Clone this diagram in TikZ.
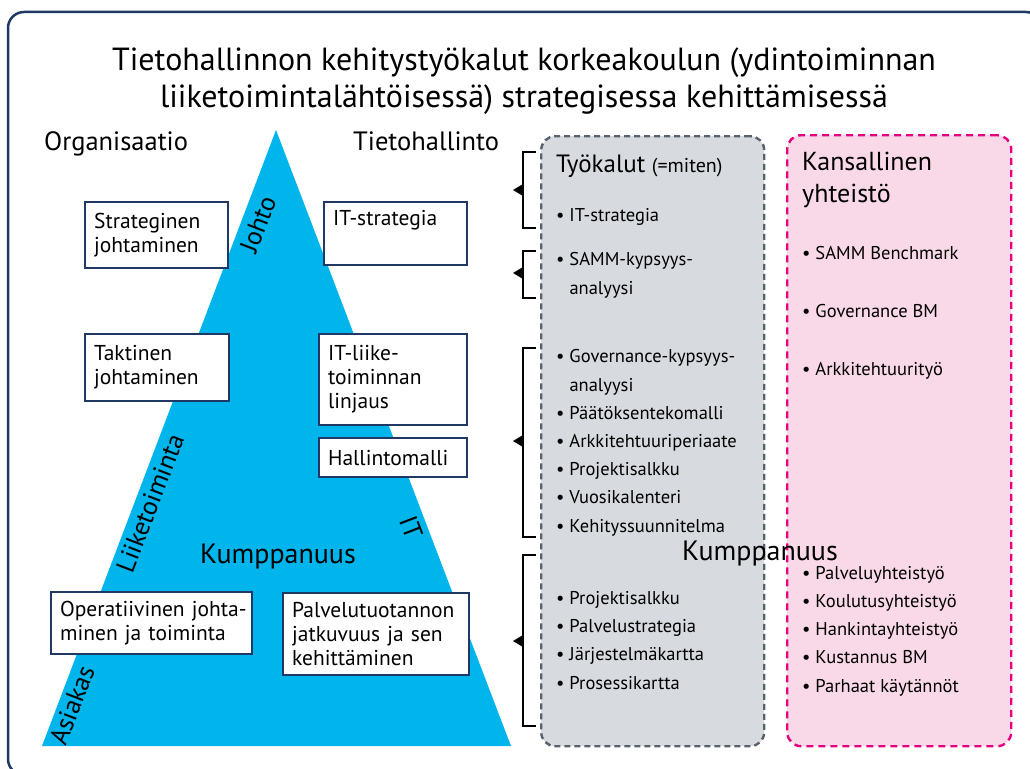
\documentclass[tikz,border=0pt]{standalone}
\usepackage{fontspec}
\setmainfont{PT Sans}
\definecolor{navy}{HTML}{1F3864}
\definecolor{pyramid}{HTML}{00B4EC}
\definecolor{toolfill}{HTML}{D7DADF}
\definecolor{toolline}{HTML}{58626C}
\definecolor{natfill}{HTML}{F9D9E8}
\definecolor{natline}{HTML}{E6007E}
\newcommand\brkt[4]{% name, top, bottom, tip y
  \coordinate (#1t) at (536,#2);
  \coordinate (#1b) at (536,#3);
  \coordinate (#1m) at (513,#4);
  \draw[line width=2pt] (#1t) -- (523,#2) -- (523,#3) -- (#1b);
  \fill (#1m) -- (523,#4-6) -- (523,#4+6) -- cycle;}
\begin{document}
\begin{tikzpicture}[x=1pt,y=-1pt,
  every node/.style={inner sep=0pt},
  lvlbox/.style={draw=navy, line width=2.2pt, fill=white, anchor=north west,
    align=left, inner xsep=9pt, font=\fontsize{21.5}{24}\selectfont},
  head/.style={font=\fontsize{26.5}{30}\selectfont},
  side/.style={font=\fontsize{26}{28}\selectfont},
  items/.style={anchor=base west, align=left, font=\fontsize{18.5}{28.2}\selectfont},
  panel/.style={anchor=north west, rounded corners=14pt, line width=2.4pt}]
\useasboundingbox (0,0) rectangle (1030,768);

% outer frame
\draw[navy, line width=2.5pt, rounded corners=16pt] (8,12) rectangle (1042,775);

% title
\node[font=\fontsize{32}{37}\selectfont, align=center] (title) at (524,81)
  {Tietohallinnon kehitystyökalut korkeakoulun (ydintoiminnan\\
   liiketoimintalähtöisessä) strategisessa kehittämisessä};

% pyramid
\fill[pyramid] (276,130) -- (511,746) -- (42,746) -- cycle;

\node[head, anchor=base west] (org) at (44,150) {Organisaatio};
\node[head, anchor=base west] (th) at (353,150) {Tietohallinto};

% side labels along the pyramid edges
\node[side, rotate=69] (johto) at (258,224) {Johto};
\node[side, rotate=69] (liike) at (150,503) {Liiketoiminta};
\node[side, rotate=69] (asiakas) at (72,705) {Asiakas};
\node[side, rotate=-69] (it) at (411,527) {IT};
\node[head, font=\fontsize{28}{30}\selectfont] (kump1) at (278,556) {Kumppanuus};

% level boxes
\node[lvlbox, minimum width=143, minimum height=66, text width=125] (sj) at (84,201)
  {Strateginen\\johtaminen};
\node[lvlbox, minimum width=143, minimum height=63, text width=125] (its) at (323,201)
  {IT-strategia\\ \strut};
\node[lvlbox, minimum width=144, minimum height=67, text width=126] (tj) at (84,333)
  {Taktinen\\johtaminen};
\node[lvlbox, minimum width=148, minimum height=91, text width=130] (itl) at (318,333)
  {IT-liike-\\toiminnan\\linjaus};
\node[lvlbox, minimum width=148, minimum height=39, text width=130] (hm) at (318,437)
  {Hallintomalli};
\node[lvlbox, minimum width=201, minimum height=62, text width=183] (oj) at (50,591)
  {\mbox{Operatiivinen johta-}\\\mbox{minen ja toiminta}};
\node[lvlbox, minimum width=186, minimum height=82, text width=168] (pt) at (282,592)
  {\mbox{Palvelutuotannon}\\\mbox{jatkuvuus ja sen}\\kehittäminen};

% tools panel
\node[panel, draw=toolline, dash pattern=on 6pt off 4pt, fill=toolfill,
  minimum width=223, minimum height=610] (tools) at (540,135) {};
\node[anchor=base west] (toolshead) at (556,172)
  {\fontsize{25}{28}\selectfont Työkalut \fontsize{20}{22}\selectfont(=miten)};
\node[items] (t1) at (556,221) {• IT-strategia};
\node[items] (t2) at (556,294) {• SAMM-kypsyys-\\\phantom{• }analyysi};
\node[items] (t3) at (556,532) {• Governance-kypsyys-\\\phantom{• }analyysi\\
  • Päätöksentekomalli\\• Arkkitehtuuriperiaate\\• Projektisalkku\\
  • Vuosikalenteri\\• Kehityssuunnitelma};
\node[items] (t4) at (556,689) {• Projektisalkku\\• Palvelustrategia\\
  • Järjestelmäkartta\\• Prosessikartta};

% national community panel
\node[panel, draw=natline, dash pattern=on 7pt off 5pt, fill=natfill,
  minimum width=224, minimum height=611] (nat) at (786,134) {};
\node[anchor=base west, align=left, font=\fontsize{26}{32}\selectfont] (nathead) at (802,202)
  {Kansallinen\\yhteistö};
\node[items, font=\fontsize{18.5}{58}\selectfont] (n1) at (802,375)
  {• SAMM Benchmark\\• Governance BM\\• Arkkitehtuurityö};
\node[items] (n2) at (802,692) {• Palveluyhteistyö\\• Koulutusyhteistyö\\
  • Hankintayhteistyö\\• Kustannus BM\\• Parhaat käytännöt};

\node[head, font=\fontsize{28}{30}\selectfont] (kump2) at (760,553) {Kumppanuus};

% brackets tying the tools to the levels
\brkt{ba}{152}{228}{190}
\brkt{bb}{251}{298}{273}
\brkt{bc}{348}{537}{441}
\brkt{bd}{555}{726}{641}
\end{tikzpicture}
\end{document}
